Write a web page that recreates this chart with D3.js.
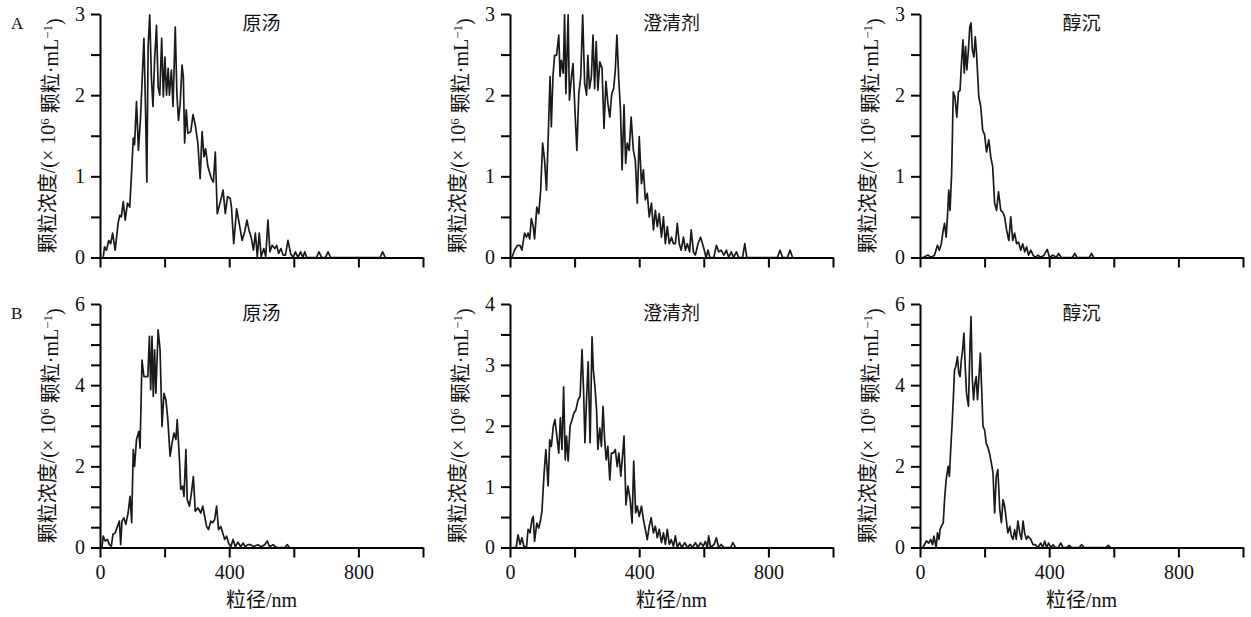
<!DOCTYPE html>
<html>
<head>
<meta charset="utf-8">
<script src="https://cdn.jsdelivr.net/npm/d3@7"></script>
<style>
  html, body { margin: 0; padding: 0; background: #fff; }
  svg text { font-family: "Liberation Serif", "Times New Roman", "Noto Sans CJK SC", serif; fill: #111; }
</style>
</head>
<body>
<svg id="chart" width="1251" height="617"></svg>
<script>
// Row / column labels
const rowLetters = ["A", "B"];
const panelTitles = ["原汤", "澄清剂", "醇沉"];

// Axis settings per row/column (y max, step between labelled ticks)
const yMaxes = [[3, 3, 3], [6, 4, 6]];
const yLabelSteps = [[1, 1, 1], [2, 1, 2]];
const yMinorStep = 0.5;
const xTicks = [0, 200, 400, 600, 800, 1000];
const xLabelled = [0, 400, 800];

// Particle size distribution, [size nm, concentration x10^6 particles/mL]
const A_raw = [[10,0],[14,0.13],[20,0.09],[27,0.21],[33,0.17],[39,0.30],[47,0.09],[56,0.42],[61,0.52],[66,0.50],[72,0.69],[78,0.46],[85,0.67],[92,0.62],[97,0.99],[103,1.47],[107,1.39],[113,1.92],[119,1.32],[125,1.69],[131,2.23],[136,2.70],[141,1.82],[145,0.93],[149,2.60],[154,2.99],[159,2.23],[164,1.86],[169,2.43],[175,2.86],[180,2.10],[185,2.00],[191,2.70],[196,1.98],[201,2.47],[206,2.00],[211,2.33],[215,2.00],[221,2.31],[226,1.86],[233,2.84],[238,2.02],[243,1.69],[248,1.88],[254,2.37],[258,2.23],[262,1.41],[267,1.82],[272,1.53],[281,1.55],[288,1.76],[295,1.63],[303,1.41],[310,0.97],[316,1.55],[322,1.24],[327,1.34],[334,1.12],[345,0.97],[351,0.93],[357,1.30],[363,0.54],[374,0.71],[381,0.83],[388,0.54],[395,0.75],[403,0.73],[407,0.62],[414,0.17],[423,0.60],[431,0.42],[440,0.21],[448,0.32],[455,0.46],[461,0.34],[468,0.25],[475,0.09],[481,0.30],[487,0.01],[493,0.30],[499,0.01],[507,0.11],[513,0.01],[520,0.46],[526,0.07],[533,0.15],[541,0.11],[547,0.15],[553,0.05],[560,0.11],[567,0.03],[574,0.03],[582,0.21],[590,0.05],[598,0],[605,0.07],[613,0],[621,0.07],[628,0],[634,0.07],[640,0],[670,0],[678,0.07],[686,0],[698,0],[706,0.07],[714,0],[867,0],[875,0.07],[883,0]];

const A_clarifier = [[6,0],[14,0.09],[23,0.15],[31,0.15],[37,0.09],[45,0.30],[51,0.25],[56,0.30],[61,0.23],[66,0.48],[72,0.38],[76,0.23],[83,0.62],[89,0.54],[95,0.83],[101,1.41],[107,1.20],[113,0.83],[119,1.57],[124,2.23],[128,1.61],[133,2.23],[138,2.49],[144,2.49],[151,2.74],[155,2.23],[159,2.43],[165,2.27],[169,2.99],[173,2.02],[180,2.99],[184,1.94],[190,2.21],[195,2.39],[201,1.82],[207,1.32],[213,2.02],[219,2.23],[225,2.99],[231,2.15],[237,2.00],[241,2.49],[246,2.08],[252,2.23],[257,2.74],[262,2.08],[267,2.66],[272,2.06],[278,2.41],[285,2.33],[291,1.59],[297,2.17],[303,1.90],[309,1.73],[315,2.02],[321,2.08],[326,2.31],[331,2.74],[337,2.17],[342,1.82],[347,1.08],[353,1.88],[358,1.16],[363,1.41],[369,1.32],[375,1.73],[382,1.32],[388,1.20],[394,0.67],[400,1.49],[407,0.91],[413,1.08],[419,0.71],[425,0.79],[431,0.50],[438,0.67],[444,0.34],[450,0.58],[456,0.38],[462,0.54],[469,0.25],[475,0.50],[481,0.17],[487,0.38],[493,0.17],[500,0.25],[506,0.17],[512,0.17],[518,0.42],[524,0.17],[530,0.09],[537,0.25],[543,0.09],[549,0.17],[556,0.07],[561,0.34],[568,0.07],[574,0.03],[582,0.17],[590,0.25],[599,0.13],[607,0],[613,0.09],[619,0],[631,0],[639,0.15],[646,0.07],[654,0.09],[662,0.03],[670,0.09],[677,0],[685,0.07],[692,0],[701,0.07],[708,0],[720,0],[727,0.17],[733,0],[828,0],[836,0.09],[844,0],[859,0],[867,0.09],[875,0]];

const A_ethanol = [[9,0],[25,0.03],[35,0],[45,0.03],[54,0.15],[60,0.09],[66,0.17],[72,0.34],[76,0.42],[81,0.25],[85,0.50],[89,0.83],[93,0.58],[98,1.04],[103,2.04],[108,1.98],[114,1.73],[119,2.04],[124,2.06],[129,2.43],[133,2.68],[137,2.27],[141,2.60],[145,2.31],[150,2.56],[154,2.84],[158,2.89],[162,2.56],[167,2.47],[171,2.72],[175,2.52],[182,1.98],[188,1.86],[194,1.57],[200,1.51],[206,1.30],[213,1.45],[219,1.24],[225,1.12],[231,0.67],[237,0.58],[243,0.81],[250,0.58],[256,0.56],[262,0.50],[268,0.34],[275,0.21],[281,0.50],[287,0.21],[293,0.30],[299,0.17],[305,0.19],[312,0.09],[318,0.17],[324,0.07],[330,0.13],[336,0.03],[343,0.09],[350,0.03],[357,0],[365,0.03],[374,0],[384,0.03],[394,0.10],[401,0],[412,0.03],[422,0],[429,0.05],[437,0],[472,0],[479,0.05],[486,0],[524,0],[531,0.05],[538,0]];

const B_raw = [[6,0],[10,0.28],[16,0.16],[23,0.20],[29,0.07],[35,0.03],[40,0.32],[47,0.36],[54,0.52],[60,0.65],[64,0.07],[68,0.65],[74,0.73],[80,0.57],[87,0.85],[93,1.26],[98,0.61],[103,2.41],[107,2.00],[113,2.66],[120,2.86],[124,2.45],[130,4.62],[136,4.21],[142,4.21],[148,4.21],[153,5.20],[157,3.89],[161,5.20],[165,3.72],[169,4.87],[173,3.80],[180,5.36],[186,4.87],[192,2.98],[198,3.80],[204,3.64],[210,3.15],[217,2.25],[223,2.57],[229,2.82],[235,2.66],[239,3.15],[246,2.16],[250,1.43],[256,1.51],[260,1.26],[266,2.41],[270,1.18],[277,1.02],[283,1.34],[289,1.75],[295,0.89],[303,0.98],[312,0.85],[318,1.02],[324,0.77],[330,0.52],[336,0.44],[343,0.65],[349,0.61],[355,0.69],[361,1.02],[367,0.44],[374,0.52],[380,0.36],[386,0.20],[392,0.28],[398,0.11],[405,0.02],[412,0.20],[419,0.02],[427,0.13],[436,0.02],[443,0.11],[450,0.02],[458,0.07],[466,0.07],[475,0.02],[489,0.07],[499,0.02],[510,0.07],[518,0.16],[525,0.02],[536,0.07],[546,0],[572,0],[580,0.07],[587,0]];

const B_clarifier = [[9,0],[19,0],[25,0.21],[31,0.05],[37,0.16],[43,0.02],[51,0],[56,0.30],[62,0.24],[68,0.46],[72,0.51],[76,0.10],[83,0.40],[89,0.32],[94,0.43],[99,0.60],[105,1.17],[111,1.61],[118,1.01],[123,1.77],[128,1.66],[134,1.99],[139,2.10],[144,1.88],[151,1.55],[156,2.13],[161,1.61],[166,2.64],[171,1.44],[175,1.83],[180,1.42],[186,1.99],[192,2.10],[198,2.21],[204,2.26],[211,2.43],[217,2.48],[223,3.25],[228,2.54],[232,1.72],[237,2.43],[242,3.05],[248,1.72],[254,3.46],[258,2.92],[263,2.64],[268,2.26],[272,1.61],[278,1.96],[283,1.66],[288,2.32],[293,1.77],[298,1.44],[303,1.66],[309,1.11],[314,1.55],[320,1.55],[326,1.61],[332,1.33],[337,1.55],[343,1.17],[349,1.55],[353,1.83],[359,0.70],[365,1.01],[372,0.79],[378,0.40],[383,1.42],[389,0.57],[394,0.68],[400,0.51],[407,0.68],[413,0.46],[419,0.30],[425,0.13],[431,0.35],[437,0.49],[444,0.24],[450,0.35],[456,0.16],[462,0.30],[469,0.08],[475,0.24],[481,0.05],[487,0.30],[493,0.05],[499,0.13],[506,0.02],[512,0.19],[518,0],[525,0.08],[532,0],[541,0.08],[549,0],[557,0.05],[566,0],[574,0.08],[582,0],[590,0.08],[598,0.02],[605,0.10],[611,0],[615,0.19],[621,0],[632,0.05],[639,0.16],[646,0],[654,0.05],[662,0],[683,0],[690,0.08],[698,0]];

const B_ethanol = [[9,0],[20,0.16],[27,0.11],[33,0.20],[39,0.07],[43,0.28],[50,0],[54,0.36],[59,0.20],[62,0.44],[66,0.52],[72,0.61],[76,1.18],[81,1.67],[87,2.00],[91,1.75],[95,2.41],[99,2.98],[103,3.64],[107,4.38],[111,4.46],[116,4.70],[120,4.30],[124,4.21],[128,4.62],[132,4.87],[136,5.28],[140,4.46],[144,3.80],[150,3.48],[155,5.03],[158,5.69],[162,4.13],[166,3.64],[170,4.05],[174,4.21],[178,3.64],[182,4.13],[187,4.79],[191,3.89],[195,2.98],[200,2.90],[205,2.57],[211,2.45],[216,2.29],[221,2.08],[226,1.84],[231,0.85],[236,1.75],[241,1.92],[247,0.93],[252,0.61],[257,1.18],[262,1.02],[267,0.69],[272,0.36],[278,0.52],[283,0.28],[288,0.20],[293,0.44],[298,0.20],[303,0.65],[309,0.36],[314,0.20],[319,0.65],[324,0.36],[329,0.20],[334,0.28],[343,0.20],[350,0.07],[357,0.07],[365,0],[374,0.11],[380,0],[386,0.16],[392,0],[398,0.11],[405,0],[412,0.07],[419,0],[428,0],[436,0.11],[443,0],[455,0],[462,0.05],[469,0],[493,0],[500,0.07],[508,0],[576,0],[583,0.05],[590,0]];

const series = [[A_raw, A_clarifier, A_ethanol], [B_raw, B_clarifier, B_ethanol]];

// Layout
const colX = [100, 510, 920];
const rowTop = [14, 304];
const plotW = 323;
const plotH = 243.5;

const svg = d3.select("#chart");

const x = d3.scaleLinear().domain([0, 1000]).range([0, plotW]);

rowLetters.forEach((letter, r) => {
    svg.append("text")
        .attr("x", 11)
        .attr("y", rowTop[r] + 15)
        .attr("font-size", 17)
        .text(letter);

    panelTitles.forEach((title, c) => {
        const yMax = yMaxes[r][c];
        const step = yLabelSteps[r][c];
        const y = d3.scaleLinear().domain([0, yMax]).range([plotH, 0]);

        const g = svg.append("g")
            .attr("transform", `translate(${colX[c]},${rowTop[r]})`);

        // Curve
        const line = d3.line()
            .x(d => x(d[0]))
            .y(d => y(d[1]));

        g.append("path")
            .datum(series[r][c])
            .attr("fill", "none")
            .attr("stroke", "#1a1a1a")
            .attr("stroke-width", 1.7)
            .attr("stroke-linejoin", "round")
            .attr("d", line);

        // Y axis: ticks every 0.5, labels on whole steps
        const yTickVals = d3.range(0, yMax + 0.001, yMinorStep);
        const yAxis = g.append("g")
            .call(d3.axisLeft(y)
                .tickValues(yTickVals)
                .tickSize(9)
                .tickSizeOuter(0)
                .tickPadding(6)
                .tickFormat(v => Math.abs(v / step - Math.round(v / step)) < 1e-6 ? d3.format("d")(v) : ""));

        // X axis
        const xAxis = g.append("g")
            .attr("transform", `translate(0,${plotH})`)
            .call(d3.axisBottom(x)
                .tickValues(xTicks)
                .tickSize(10)
                .tickSizeOuter(0)
                .tickPadding(7)
                .tickFormat(v => (r === 1 && xLabelled.includes(v)) ? v : ""));

        [yAxis, xAxis].forEach(a => {
            a.select(".domain").attr("stroke", "#000").attr("stroke-width", 2);
            a.selectAll(".tick line").attr("stroke", "#000").attr("stroke-width", 2);
            a.selectAll(".tick text")
                .attr("font-size", 20)
                .attr("fill", "#111")
                .style("font-family", "'Liberation Serif', 'Times New Roman', serif");
        });

        // Panel title
        g.append("text")
            .attr("x", plotW / 2)
            .attr("y", 16)
            .attr("text-anchor", "middle")
            .attr("font-size", 19)
            .text(title);

        // Y axis title
        const yt = g.append("text")
            .attr("transform", `translate(-45,${plotH / 2}) rotate(-90)`)
            .attr("text-anchor", "middle")
            .attr("font-size", 20);
        yt.append("tspan").text("颗粒浓度/(× 10");
        yt.append("tspan").attr("dy", "-0.45em").attr("font-size", 13).text("6");
        yt.append("tspan").attr("dy", "0.45em").text(" 颗粒·mL");
        yt.append("tspan").attr("dy", "-0.45em").attr("font-size", 13).text("−1");
        yt.append("tspan").attr("dy", "0.45em").text(")");

        // X axis title (bottom row only)
        if (r === 1) {
            g.append("text")
                .attr("x", plotW / 2)
                .attr("y", plotH + 59)
                .attr("text-anchor", "middle")
                .attr("font-size", 20)
                .text("粒径/nm");
        }
    });
});
</script>
</body>
</html>
